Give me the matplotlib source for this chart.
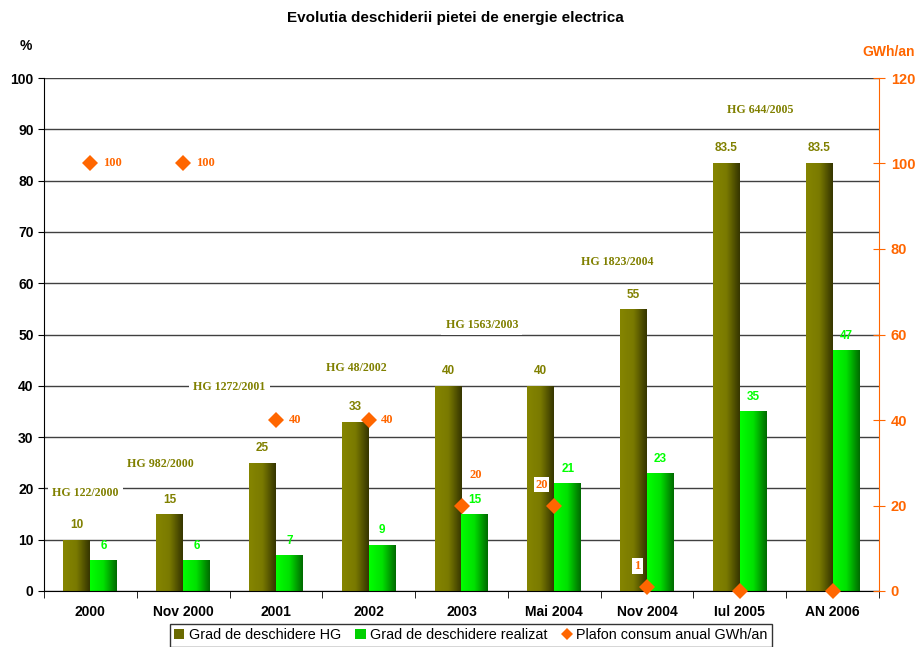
import matplotlib.pyplot as plt
import numpy as np
from matplotlib.colors import LinearSegmentedColormap
from matplotlib.patches import Patch
from matplotlib.lines import Line2D

# data
categories = ["2000", "Nov 2000", "2001", "2002", "2003", "Mai 2004", "Nov 2004", "Iul 2005", "AN 2006"]
grad_hg = [10, 15, 25, 33, 40, 40, 55, 83.5, 83.5]
grad_realizat = [6, 6, 7, 9, 15, 21, 23, 35, 47]
plafon = [100, 100, 40, 40, 20, 20, 1, 0, 0]
plafon_labels = ["100", "100", "40", "40", "20", "20", "1", "", ""]

# HG decision annotations: (text, x in category units, y in %)
hg_notes = [
    ("HG 122/2000", -0.05, 19.1),
    ("HG 982/2000", 0.75, 24.8),
    ("HG 1272/2001", 1.5, 39.8),
    ("HG 48/2002", 2.87, 43.5),
    ("HG 1563/2003", 4.22, 51.9),
    ("HG 1823/2004", 5.68, 64.1),
    ("HG 644/2005", 7.22, 93.8),
]

OLIVE = "#808000"
GREEN = "#00ff00"
ORANGE = "#ff6600"

plt.rcParams['font.family'] = ['Liberation Sans', 'DejaVu Sans']

fig = plt.figure(figsize=(9.2, 6.47), dpi=100)
ax = fig.add_axes([44/920, 1-591/647, 835/920, 513/647])
ax2 = ax.twinx()

x = np.arange(len(categories))
w = 0.29

olive_cmap = LinearSegmentedColormap.from_list("ol", ["#858500", "#7a7a00", "#353500"])
green_cmap = LinearSegmentedColormap.from_list("gr", ["#00ff00", "#00e000", "#006a00"])
grad = np.linspace(0, 1, 64).reshape(1, -1)


def gradient_bars(bars, cmap):
    for b in bars:
        b.set_facecolor("none")
        bx, by = b.get_x(), b.get_y()
        bw, bh = b.get_width(), b.get_height()
        im = ax.imshow(grad, cmap=cmap, aspect="auto", extent=[bx, bx+bw, by, by+bh],
                       zorder=2, interpolation="bicubic")
        im.set_clip_path(b)


b1 = ax.bar(x - w/2, grad_hg, w, zorder=2, linewidth=0)
b2 = ax.bar(x + w/2, grad_realizat, w, zorder=2, linewidth=0)
gradient_bars(b1, olive_cmap)
gradient_bars(b2, green_cmap)

for xi, v in zip(x, grad_hg):
    ax.annotate(f"{v:g}", (xi - w/2, v), xytext=(0, 6), textcoords="offset points",
                ha="center", va="bottom", fontsize=8.5, fontweight="bold", color=OLIVE, zorder=5)
for xi, v in zip(x, grad_realizat):
    ax.annotate(f"{v:g}", (xi + w/2, v), xytext=(0, 6), textcoords="offset points",
                ha="center", va="bottom", fontsize=8.5, fontweight="bold", color=GREEN, zorder=5)

for txt, hx, hy in hg_notes:
    ax.text(hx, hy, txt, ha="center", va="center", fontsize=8.6, fontweight="bold",
            family="Liberation Serif", color=OLIVE, zorder=3,
            bbox=dict(facecolor="white", edgecolor="none", pad=3))

ax.set_xlim(-0.5, len(categories) - 0.5)
ax.set_ylim(0, 100)
yt = list(range(0, 101, 10))
ax.set_yticks(yt)
ax.set_yticklabels([str(t) for t in yt], fontweight="bold", fontsize=10)
ax.yaxis.grid(True, color="#404040", linewidth=1)
ax.set_axisbelow(True)
ax.set_xticks(x)
ax.set_xticklabels(categories, fontweight="bold", fontsize=10)
ax.set_xticks(np.arange(-0.5, len(categories)), minor=True)
ax.tick_params(axis="x", which="major", length=0, pad=10)
ax.tick_params(axis="x", which="minor", length=5, direction="out")
ax.tick_params(axis="y", length=4, direction="out")
ax.spines["top"].set_visible(False)
ax.spines["right"].set_visible(False)

ax2.plot(x, plafon, linestyle="none", marker="D", markersize=8.5, color=ORANGE,
         markeredgewidth=0, clip_on=False, zorder=6)
ax2.set_ylim(0, 120)
yt2 = list(range(0, 121, 20))
ax2.set_yticks(yt2)
ax2.set_yticklabels([str(t) for t in yt2], fontweight="bold", fontsize=10.5)
ax2.tick_params(axis="y", colors=ORANGE, length=9, direction="inout", pad=4)
ax2.spines["right"].set_color(ORANGE)
for s in ["top", "left", "bottom"]:
    ax2.spines[s].set_visible(False)

# labels of the ceiling markers
lab_style = dict(fontsize=9, fontweight="bold", family="Liberation Serif", color=ORANGE, zorder=7)
for i in range(4):
    ax2.annotate(plafon_labels[i], (x[i], plafon[i]), xytext=(9, 0), textcoords="offset points",
                 ha="left", va="center", **lab_style)
ax2.annotate(plafon_labels[4], (x[4], plafon[4]), xytext=(6, 22), textcoords="offset points",
             ha="left", va="center", **lab_style)
ax2.annotate(plafon_labels[5], (x[5], plafon[5]), xytext=(-9, 15), textcoords="offset points",
             ha="center", va="center", bbox=dict(facecolor="white", edgecolor="none", pad=1), **lab_style)
ax2.annotate(plafon_labels[6], (x[6], plafon[6]), xytext=(-7, 15), textcoords="offset points",
             ha="center", va="center", bbox=dict(facecolor="white", edgecolor="none", pad=1.5), **lab_style)

fig.text(0.495, 1 - 18/647, "Evolutia deschiderii pietei de energie electrica",
         ha="center", va="center", fontsize=11, fontweight="bold")
fig.text(26/920, 1 - 46/647, "%", ha="center", va="center", fontsize=10, fontweight="bold")
fig.text(889/920, 1 - 52/647, "GWh/an", ha="center", va="center", fontsize=10,
         fontweight="bold", color=ORANGE)

handles = [
    Patch(facecolor="#6a6a00", edgecolor="none", label="Grad de deschidere HG"),
    Patch(facecolor="#00d000", edgecolor="none", label="Grad de deschidere realizat"),
    Line2D([], [], linestyle="none", marker="D", markersize=6, color=ORANGE,
           markeredgewidth=0, label="Plafon consum anual GWh/an"),
]
leg = fig.legend(handles=handles, loc="upper center", bbox_to_anchor=(471/920, 1 - 624/647),
                 ncol=3, frameon=True, fancybox=False, fontsize=10.4, handlelength=0.7,
                 handleheight=0.7, handletextpad=0.3, columnspacing=1.0, borderpad=0.3,
                 borderaxespad=0)
leg.get_frame().set_edgecolor("black")
leg.get_frame().set_linewidth(1)

fig.savefig("out.png", dpi=100)
